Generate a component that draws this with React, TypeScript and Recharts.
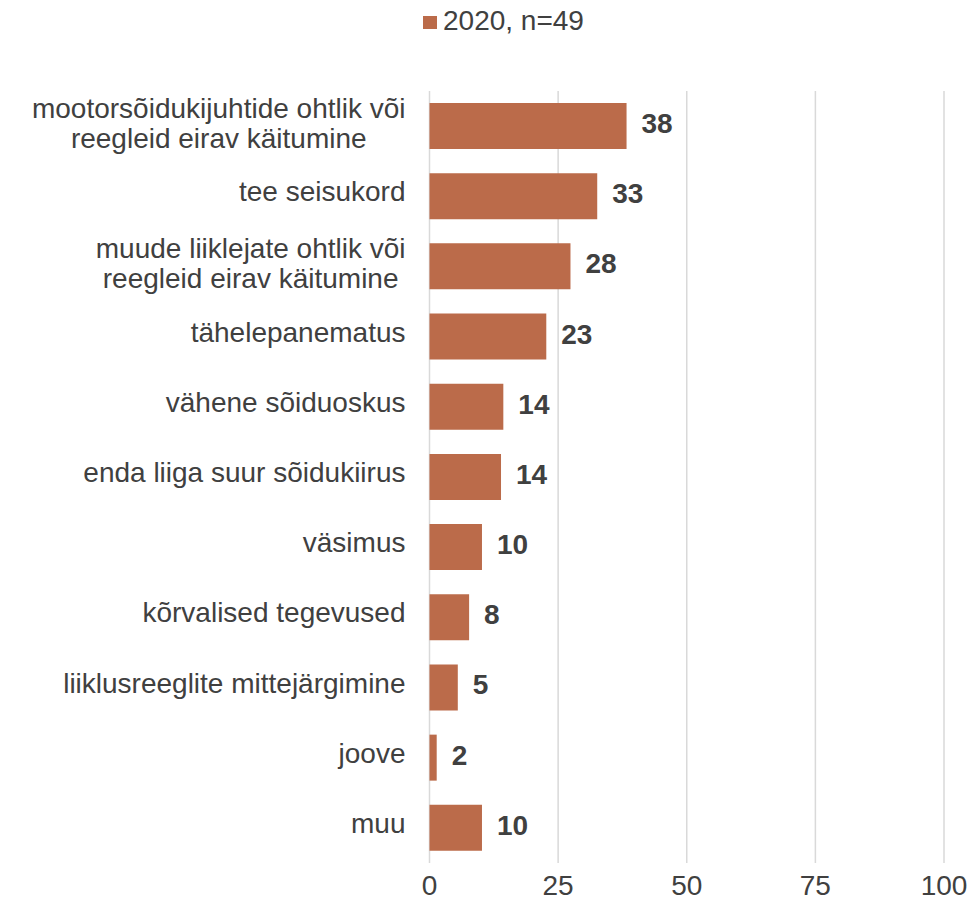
import React from 'react';
import { BarChart, Bar, XAxis, YAxis, CartesianGrid, LabelList } from 'recharts';

const categories = [
  'mootorsõidukijuhtide ohtlik või\nreegleid eirav käitumine',
  'tee seisukord',
  'muude liiklejate ohtlik või\nreegleid eirav käitumine',
  'tähelepanematus',
  'vähene sõiduoskus',
  'enda liiga suur sõidukiirus',
  'väsimus',
  'kõrvalised tegevused',
  'liiklusreeglite mittejärgimine',
  'joove',
  'muu',
];
const values2020 = [38.3, 32.6, 27.4, 22.7, 14.35, 13.9, 10.2, 7.7, 5.5, 1.4, 10.2];
const valueLabels = ['38', '33', '28', '23', '14', '14', '10', '8', '5', '2', '10'];
const xTicks = [0, 25, 50, 75, 100];
const seriesName = '2020, n=49';

const FONT = '"Liberation Sans", Arial, Helvetica, sans-serif';
const TEXT = '#404040';
const BAR = '#BB6B4A';

const data = categories.map((c, i) => ({ cat: c, v: values2020[i], label: valueLabels[i] }));

let ctx: CanvasRenderingContext2D | null = null;
function measure(s: string): number {
  if (!ctx) {
    const c = document.createElement('canvas');
    ctx = c.getContext('2d');
  }
  if (!ctx) return s.length * 14;
  ctx.font = '28px "Liberation Sans"';
  return ctx.measureText(s).width;
}

const YTick = (props: any) => {
  const { x, y, payload } = props;
  const lines: string[] = String(payload.value).split('\n');
  if (lines.length === 1) {
    return (
      <text x={x} y={y + 5} textAnchor="end" fontFamily={FONT} fontSize={28} fill={TEXT}>
        {lines[0]}
      </text>
    );
  }
  const w = Math.max(...lines.map(measure));
  const cx = x - w / 2;
  return (
    <text x={cx} y={y - 8} textAnchor="middle" fontFamily={FONT} fontSize={28} fill={TEXT}>
      {lines.map((l, i) => (
        <tspan key={i} x={cx} dy={i === 0 ? 0 : 30}>
          {l}
        </tspan>
      ))}
    </text>
  );
};

const ValueLabel = (props: any) => {
  const { x, y, width, height, value } = props;
  return (
    <text
      x={Number(x) + Number(width) + 15}
      y={Number(y) + Number(height) / 2 + 7}
      textAnchor="start"
      fontFamily={FONT}
      fontSize={28}
      fontWeight="bold"
      fill={TEXT}
    >
      {value}
    </text>
  );
};

export default function App() {
  return (
    <div style={{ position: 'absolute', left: 0, top: 0, width: 970, height: 900, background: '#fff' }}>
      <svg width={200} height={40} style={{ position: 'absolute', left: 420, top: 0 }}>
        <rect x={3} y={16} width={14} height={13} fill={BAR} />
        <text x={23} y={29.5} fontFamily={FONT} fontSize={28} fill={TEXT}>
          {seriesName}
        </text>
      </svg>
      <BarChart
        width={970}
        height={900}
        data={data}
        layout="vertical"
        margin={{ top: 91, right: 26, bottom: 0, left: 0 }}
        barSize={46}
      >
        <CartesianGrid horizontal={false} stroke="#d9d9d9" strokeWidth={1.5} />
        <XAxis
          type="number"
          domain={[0, 100]}
          ticks={xTicks}
          axisLine={false}
          tickLine={false}
          tickSize={0}
          tickMargin={12}
          height={37}
          tick={{ fontFamily: FONT, fontSize: 28, fill: TEXT }}
        />
        <YAxis
          type="category"
          dataKey="cat"
          width={429.5}
          axisLine={false}
          tickLine={false}
          tickSize={0}
          tickMargin={24}
          interval={0}
          tick={<YTick />}
        />
        <Bar dataKey="v" name={seriesName} fill={BAR} isAnimationActive={false}>
          <LabelList dataKey="label" content={<ValueLabel />} />
        </Bar>
      </BarChart>
    </div>
  );
}
